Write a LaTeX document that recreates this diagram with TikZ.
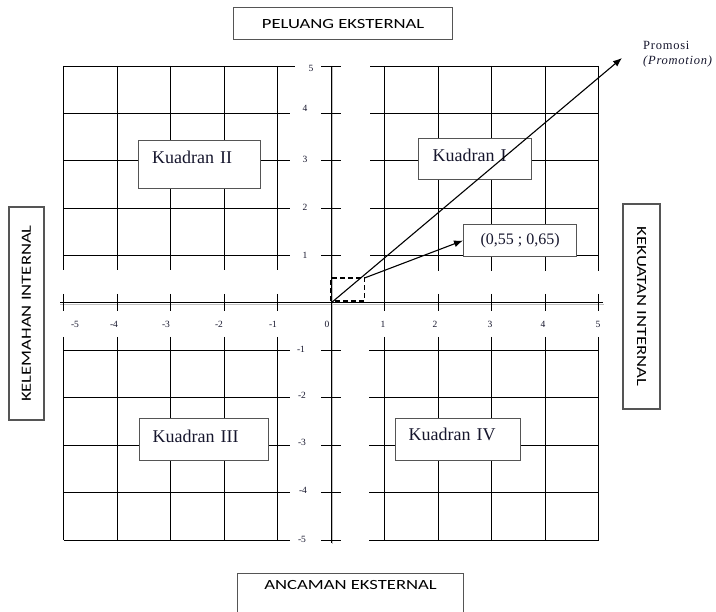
\documentclass[tikz,border=0pt]{standalone}
\usepackage{fontspec}
\setmainfont{Liberation Serif}
\newfontfamily\capsfont[FakeStretch=1.33]{Carlito}
\usetikzlibrary{arrows.meta}
\definecolor{ink}{RGB}{22,22,45}
\definecolor{frame}{RGB}{85,85,85}
\begin{document}
\begin{tikzpicture}[x=1pt,y=-1pt,
  gridline/.style={line width=0.9pt,black},
  axisline/.style={line width=1pt,black},
  axisshade/.style={line width=1.3pt,black!25},
  tickline/.style={line width=0.9pt,black},
  ticklabel/.style={font=\fontsize{9.5}{10}\selectfont,text=ink,inner sep=0pt},
  sidebox/.style={draw=frame,line width=1.1pt,fill=white,anchor=north west,inner sep=0pt,
    font=\capsfont\fontsize{14}{16}\selectfont},
  qbox/.style={draw=frame,line width=1.1pt,fill=white,anchor=north west,
    font=\fontsize{18}{20}\selectfont,text=ink,align=left,inner ysep=8pt},
  arrowline/.style={line width=1.1pt,black,-{Latex[length=9pt,width=7pt]}}]

\clip (0,0) rectangle (716,612);
\fill[white] (0,0) rectangle (716,612);

% ---- grid: four blocks around the axes ----
\foreach \k in {1,...,5} {
  % upper-left block
  \draw[gridline] (63.5,{303-47.4*\k}) -- ({\k==5 ? 295 : 290},{303-47.4*\k});
  \draw[gridline] ({331-53.5*\k},66) -- ({331-53.5*\k},270);
  % upper-right block
  \draw[gridline] (370,{303-47.4*\k}) -- (598.5,{303-47.4*\k});
  % lower-left block
  \draw[gridline] (63.5,{303+47.4*\k}) -- (290,{303+47.4*\k});
  \draw[gridline] ({331-53.5*\k},337) -- ({331-53.5*\k},540);
  % lower-right block
  \draw[gridline] (369,{303+47.4*\k}) -- (598.5,{303+47.4*\k});
  \draw[gridline] ({331+53.5*\k},337) -- ({331+53.5*\k},540);
}
\foreach \k in {2,...,5}
  \draw[gridline] ({331+53.5*\k},66) -- ({331+53.5*\k},271);
\draw[gridline] (384.5,66) -- (384.5,311);

% ---- axes with their soft shadow ----
\draw[axisshade] (60,304.8) -- (604,304.8);
\draw[axisshade] (332.8,66) -- (332.8,544);
\draw[axisline] (60,303) -- (603,303);
\draw[axisline] (331,66) -- (331,543);

% ---- ticks ----
\foreach \k in {-5,...,-1,1,2,3,4,5} {
  \draw[tickline] ({331+53.5*\k},294) -- ({331+53.5*\k},311);
  \draw[tickline] (321,{303-47.4*\k}) -- (341,{303-47.4*\k});
}
\draw[tickline] (331,294) -- (331,311);

% ---- tick labels ----
\foreach \t/\px in {-5/75,-4/114,-3/166,-2/219,-1/273,0/327,1/383,2/435,3/490,4/543,5/598}
  \node[ticklabel] (xl\t) at (\px,324) {\t};
\foreach \t/\px/\py in {5/311/68,4/305/108,3/305/159,2/305/207,1/305/255,
                         -1/301/349,-2/302/395,-3/302/442,-4/303/490,-5/302/539}
  \node[ticklabel] (yl\t) at (\px,\py) {\t};

% ---- side labels ----
\node[sidebox,minimum width=219pt,minimum height=32pt] (peluang) at (233,7) {PELUANG EKSTERNAL};
\node[sidebox,minimum width=226pt,minimum height=50pt,text height=10pt,text depth=28pt] (ancaman) at (237,573) {ANCAMAN EKSTERNAL};
\node[sidebox,anchor=center,rotate=90,minimum width=213pt,minimum height=35pt] (kelemahan) at (26.5,313.5) {KELEMAHAN INTERNAL};
\node[sidebox,anchor=center,rotate=-90,minimum width=205pt,minimum height=37pt] (kekuatan) at (641.5,306.5) {KEKUATAN INTERNAL};

% ---- quadrant boxes ----
\node[qbox,inner xsep=13.5pt,text width=95pt,text height=15pt,text depth=17pt] (q2) at (138,140) {Kuadran II};
\node[qbox,inner xsep=14pt,text width=85pt,text height=15pt,text depth=10pt] (q1) at (418,138) {Kuadran I};
\node[qbox,inner xsep=13pt,text width=103pt,text height=16pt,text depth=10pt] (q3) at (139,418) {Kuadran III};
\node[qbox,inner xsep=13pt,text width=99pt,text height=14pt,text depth=12pt] (q4) at (395,418) {Kuadran IV};

% ---- position marker ----
\coordinate (O) at (331,303);
\coordinate (C) at (364.5,278);
\coordinate (P) at (622,58);
\draw[line width=1.2pt,dash pattern=on 5pt off 3pt] (331,301) rectangle (C);
\node[draw=frame,line width=1.1pt,fill=white,anchor=north west,minimum width=113pt,minimum height=32pt,
      inner sep=0pt,font=\fontsize{16}{18}\selectfont,text=ink] (pt) at (463,224) {(0,55 ; 0,65)};
\draw[arrowline] (C) -- (pt.west);
\draw[arrowline] (O) -- (P);

% ---- strategy label ----
\node[anchor=north west,inner sep=0pt,align=left,font=\fontsize{12.5}{15}\selectfont,text=ink] (promo) at (643,41)
  {\addfontfeatures{LetterSpace=6}Promosi\\\addfontfeatures{LetterSpace=6}\itshape(Promotion)};
\end{tikzpicture}
\end{document}
